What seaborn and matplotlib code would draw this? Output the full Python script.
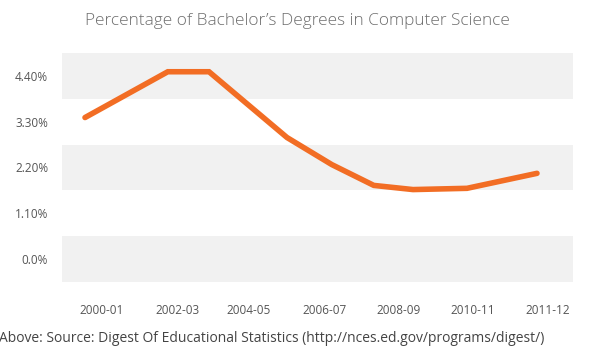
import matplotlib
matplotlib.use("Agg")
import matplotlib.pyplot as plt
import seaborn as sns
import pandas as pd

# ==============================
# Data
# ==============================
# x position of each point, in years after 2000-01
point_x = [0, 2.07, 3.1, 5.05, 6.17, 7.22, 8.2, 9.55, 11.3]
pct_cs = [3.40, 4.50, 4.50, 2.92, 2.27, 1.77, 1.67, 1.70, 2.06]

tick_labels = ["2000-01", "2002-03", "2004-05", "2006-07", "2008-09", "2010-11", "2011-12"]
tick_pos = [0.425, 2.3, 4.1, 6.0, 7.85, 9.7, 11.575]

y_ticks = [0.0, 1.10, 2.20, 3.30, 4.40]
y_labels = ["0.0%", "1.10%", "2.20%", "3.30%", "4.40%"]

df = pd.DataFrame({"x": point_x, "pct": pct_cs})

# ==============================
# Plot
# ==============================
sns.set_style("white")
plt.rcParams["font.family"] = ["Open Sans", "DejaVu Sans"]

fig = plt.figure(figsize=(5.95, 3.56), dpi=100)
ax = fig.add_axes([62 / 595, 74 / 356, 511 / 595, 229 / 356])

# alternating grey bands, one per y tick
half = (y_ticks[1] - y_ticks[0]) / 2
for i, t in enumerate(y_ticks):
    if i % 2 == 0:
        ax.axhspan(t - half, t + half, color="#f1f1f1", lw=0, zorder=0)

sns.lineplot(data=df, x="x", y="pct", ax=ax, color="#f26d24", linewidth=4,
             solid_capstyle="round", solid_joinstyle="miter", zorder=3)

ax.set_xlim(-0.575, 12.2)
ax.set_ylim(y_ticks[0] - half, y_ticks[-1] + half)
ax.set_xticks(tick_pos)
ax.set_xticklabels(tick_labels)
ax.set_yticks(y_ticks)
ax.set_yticklabels(y_labels)
ax.tick_params(axis="both", length=0, labelsize=8.5, colors="#555555")
ax.tick_params(axis="y", pad=10)
ax.tick_params(axis="x", pad=16)
ax.set_xlabel("")
ax.set_ylabel("")
sns.despine(ax=ax, left=True, bottom=True)

fig.text(0.50, 0.94, "Percentage of Bachelor\u2019s Degrees in Computer Science",
         ha="center", va="center", fontsize=12.4, color="#6e6e6e", fontweight="light")
fig.text(-0.002, 0.05, "Above: Source: Digest Of Educational Statistics (http://nces.ed.gov/programs/digest/)",
         ha="left", va="center", fontsize=10, color="#444444")

fig.savefig("out.png", dpi=100)
